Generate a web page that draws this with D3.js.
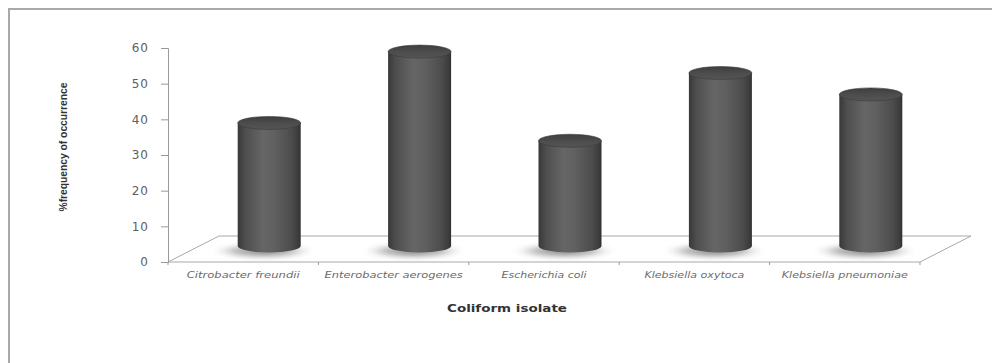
<!DOCTYPE html>
<html>
<head>
<meta charset="utf-8">
<script src="https://cdn.jsdelivr.net/npm/d3@7"></script>
<style>
  html, body { margin: 0; padding: 0; background: #fff; }
  svg { display: block; }
</style>
</head>
<body>
<svg id="chart" width="992" height="363"></svg>
<script>
// Coliform isolates and their % frequency of occurrence
const isolates = ["Citrobacter freundii", "Enterobacter aerogenes", "Escherichia coli", "Klebsiella oxytoca", "Klebsiella pneumoniae"];
const frequency = [34.5, 54.5, 29.5, 48.5, 42.5];
const yTicks = [0, 10, 20, 30, 40, 50, 60];
const labelWidths = [113, 138, 85, 100, 126];

const svg = d3.select("#chart");
const defs = svg.append("defs");

// Layout of the 3D floor: front edge, back edge offset
const x0 = 168, x1 = 920, yFloor = 262;
const depthX = 51, depthY = -26;
const barDx = 26, barDy = -16;   // bars stand a little behind the front edge
const rx = 31.5, ry = 6.5;

const x = d3.scaleBand().domain(isolates).range([x0, x1]);
const y = d3.scaleLinear().domain([0, 60]).range([yFloor, 48]);

// Outer frame
svg.append("rect")
  .attr("x", 9).attr("y", 9).attr("width", 1000).attr("height", 400)
  .attr("fill", "none").attr("stroke", "#a9a9a9").attr("stroke-width", 2);

// Gradients for cylinder body, cap and floor shadow
const body = defs.append("linearGradient").attr("id", "body").attr("x1", "0").attr("x2", "1");
[[0, "#383838"], [0.12, "#4e4e4e"], [0.4, "#666666"], [0.58, "#606060"], [0.85, "#4c4c4c"], [0.96, "#3c3c3c"], [1, "#303030"]]
  .forEach(([o, c]) => body.append("stop").attr("offset", o).attr("stop-color", c));
const cap = defs.append("linearGradient").attr("id", "cap").attr("x1", "0").attr("x2", "0").attr("y1", "0").attr("y2", "1");
[[0, "#3e3e3e"], [0.5, "#4c4c4c"], [1, "#555555"]]
  .forEach(([o, c]) => cap.append("stop").attr("offset", o).attr("stop-color", c));
const shade = defs.append("radialGradient").attr("id", "shade");
[[0, "#7c7c7c", 0.95], [0.55, "#a8a8a8", 0.75], [1, "#ffffff", 0]]
  .forEach(([o, c, a]) => shade.append("stop").attr("offset", o).attr("stop-color", c).attr("stop-opacity", a));
const blur = defs.append("filter").attr("id", "soft").attr("x", "-20%").attr("y", "-50%").attr("width", "140%").attr("height", "200%");
blur.append("feGaussianBlur").attr("stdDeviation", 2);

// Floor parallelogram
const floor = [[x0, yFloor], [x1, yFloor], [x1 + depthX, yFloor + depthY], [x0 + depthX, yFloor + depthY]];
svg.append("path")
  .attr("d", d3.line()(floor) + "Z")
  .attr("fill", "none").attr("stroke", "#a8a8a8").attr("stroke-width", 1);

// Category ticks on the front edge
svg.append("g").selectAll("line")
  .data(d3.range(isolates.length + 1))
  .join("line")
  .attr("x1", i => x0 + i * x.bandwidth()).attr("x2", i => x0 + i * x.bandwidth())
  .attr("y1", yFloor).attr("y2", yFloor + 3)
  .attr("stroke", "#999");

// Value axis
const axis = svg.append("g").attr("transform", `translate(${x0},0)`)
  .call(d3.axisLeft(y).tickValues(yTicks).tickSize(7).tickPadding(12));
axis.select(".domain").attr("stroke", "#9a9a9a");
axis.selectAll(".tick line").attr("stroke", "#9a9a9a");
axis.selectAll(".tick text")
  .attr("font-family", "DejaVu Sans, Verdana, sans-serif")
  .attr("font-size", 12).attr("fill", "#606060")
  .attr("letter-spacing", 1);

const cx = d => x(d) + x.bandwidth() / 2 + barDx;
const baseY = yFloor + barDy;

// Soft shadows under each cylinder
svg.append("g").selectAll("ellipse")
  .data(isolates)
  .join("ellipse")
  .attr("cx", d => cx(d) - 6).attr("cy", baseY + 5)
  .attr("rx", 54).attr("ry", 9)
  .attr("fill", "url(#shade)").attr("filter", "url(#soft)");

// Cylinders
const bars = svg.append("g").selectAll("g")
  .data(isolates.map((d, i) => ({ name: d, value: frequency[i] })))
  .join("g");

bars.append("path")
  .attr("d", d => {
    const c = cx(d.name), top = y(d.value) + barDy;
    return `M${c - rx},${top} L${c - rx},${baseY} A${rx},${ry} 0 0 0 ${c + rx},${baseY} L${c + rx},${top} Z`;
  })
  .attr("fill", "url(#body)");

bars.append("ellipse")
  .attr("cx", d => cx(d.name)).attr("cy", d => y(d.value) + barDy)
  .attr("rx", rx).attr("ry", ry)
  .attr("fill", "url(#cap)").attr("stroke", "#3a3a3a").attr("stroke-width", 0.6);

// Category labels
svg.append("g").selectAll("text")
  .data(isolates)
  .join("text")
  .attr("x", d => x(d) + x.bandwidth() / 2)
  .attr("y", 278)
  .attr("text-anchor", "middle")
  .attr("font-family", "DejaVu Sans, Verdana, sans-serif")
  .attr("font-style", "italic").attr("font-size", 8.5)
  .attr("fill", "#6a6a6a")
  .attr("textLength", (d, i) => labelWidths[i]).attr("lengthAdjust", "spacingAndGlyphs")
  .text(d => d);

// Axis titles
svg.append("text")
  .attr("x", 507).attr("y", 312)
  .attr("text-anchor", "middle")
  .attr("font-family", "DejaVu Sans, Verdana, sans-serif")
  .attr("font-weight", "bold").attr("font-size", 10)
  .attr("fill", "#333")
  .attr("textLength", 120).attr("lengthAdjust", "spacingAndGlyphs")
  .text("Coliform isolate");

svg.append("text")
  .attr("transform", "translate(67,147) rotate(-90)")
  .attr("text-anchor", "middle")
  .attr("font-family", "Liberation Sans Narrow, Arial Narrow, Liberation Sans, sans-serif")
  .attr("font-weight", "bold").attr("font-size", 11)
  .attr("fill", "#333")
  .attr("textLength", 129).attr("lengthAdjust", "spacingAndGlyphs")
  .text("%frequency of occurrence");
</script>
</body>
</html>
